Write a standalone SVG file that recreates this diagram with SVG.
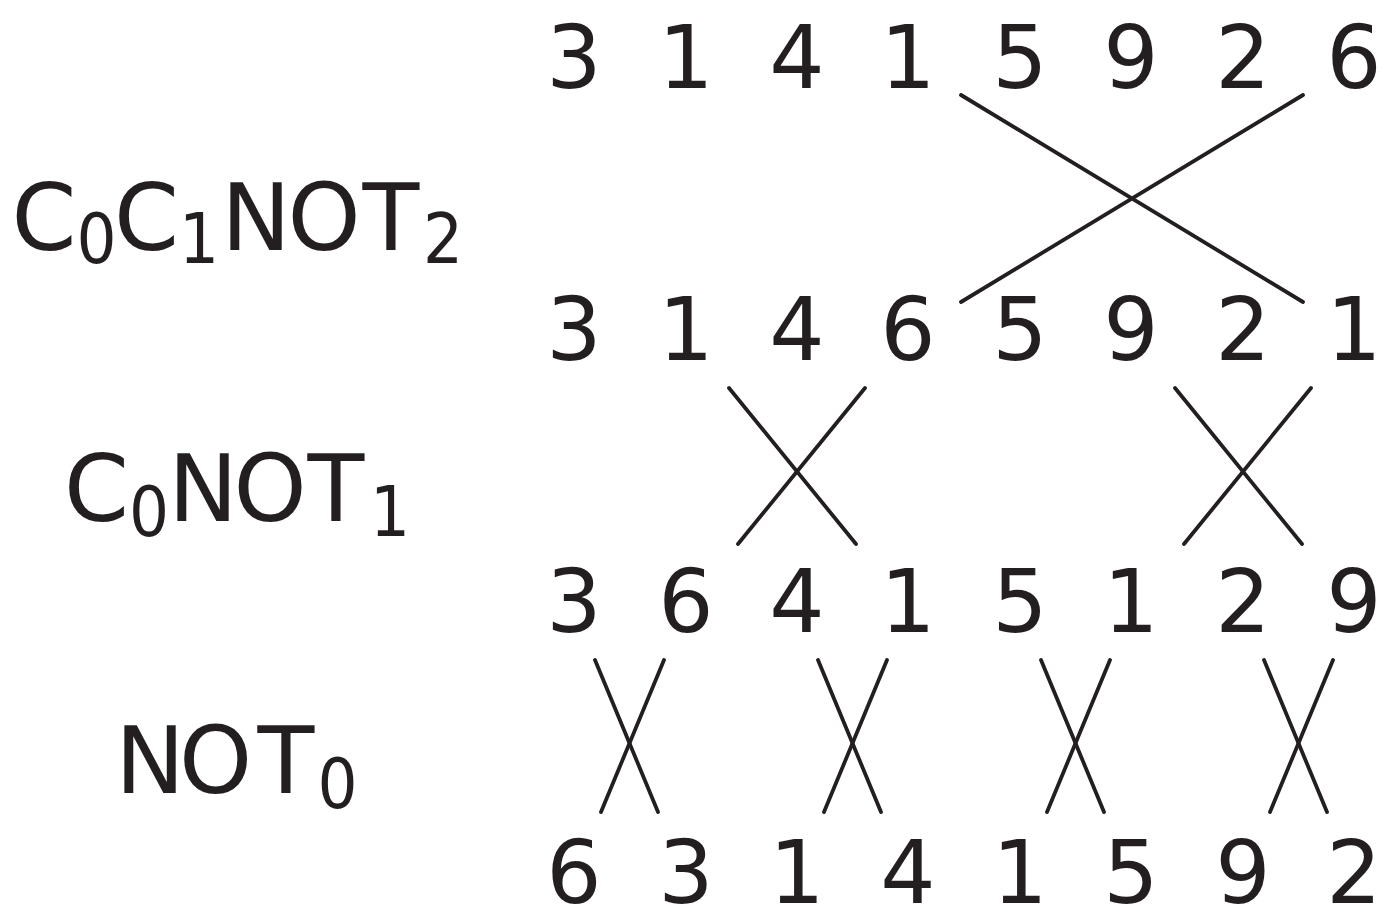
<svg xmlns="http://www.w3.org/2000/svg" width="1391" height="922" viewBox="0 0 1391 922">
<style>
.d{font-family:"DejaVu Sans","Liberation Sans",sans-serif;font-size:87px;fill:#231f20;text-anchor:middle}
.l{font-family:"DejaVu Sans","Liberation Sans",sans-serif;font-size:93px;fill:#231f20;text-anchor:middle}
.s{font-family:"DejaVu Sans Condensed","DejaVu Sans","Liberation Sans",sans-serif;font-size:70px}
line{stroke:#231f20;stroke-width:3.8;stroke-linecap:round}
</style>
<rect width="1391" height="922" fill="#fff"/>
<g id="labels">
<text id="lab1" class="l" y="250"><tspan x="44">C</tspan><tspan class="s" x="96.5" y="263">0</tspan><tspan x="146.5" y="250">C</tspan><tspan class="s" x="199" y="263">1</tspan><tspan x="256" y="250">N</tspan><tspan x="324" y="250">O</tspan><tspan x="391" y="250">T</tspan><tspan class="s" x="443" y="263">2</tspan></text>
<text id="lab2" class="l" y="521"><tspan x="96.5">C</tspan><tspan class="s" x="149" y="536">0</tspan><tspan x="203" y="521">N</tspan><tspan x="270" y="521">O</tspan><tspan x="336" y="521">T</tspan><tspan class="s" x="390" y="536">1</tspan></text>
<text id="lab3" class="l" y="793"><tspan x="150">N</tspan><tspan x="215.5">O</tspan><tspan x="286">T</tspan><tspan class="s" x="337.5" y="808">0</tspan></text>
</g>
<g id="row1" class="d">
<text x="574" y="88">3</text><text x="686" y="88">1</text><text x="797" y="88">4</text><text x="908" y="88">1</text><text x="1020" y="88">5</text><text x="1131" y="88">9</text><text x="1243" y="88">2</text><text x="1354" y="88">6</text>
</g>
<g id="row2" class="d">
<text x="574" y="360">3</text><text x="686" y="360">1</text><text x="797" y="360">4</text><text x="908" y="360">6</text><text x="1020" y="360">5</text><text x="1131" y="360">9</text><text x="1243" y="360">2</text><text x="1354" y="360">1</text>
</g>
<g id="row3" class="d">
<text x="574" y="632">3</text><text x="686" y="632">6</text><text x="797" y="632">4</text><text x="908" y="632">1</text><text x="1020" y="632">5</text><text x="1131" y="632">1</text><text x="1243" y="632">2</text><text x="1354" y="632">9</text>
</g>
<g id="row4" class="d">
<text x="574" y="903">6</text><text x="686" y="903">3</text><text x="797" y="903">1</text><text x="908" y="903">4</text><text x="1020" y="903">1</text><text x="1131" y="903">5</text><text x="1243" y="903">9</text><text x="1354" y="903">2</text>
</g>
<g id="connectors">
<line x1="961" y1="95" x2="1303" y2="302"/>
<line x1="1303" y1="95" x2="961" y2="302"/>
<line x1="729" y1="388" x2="856" y2="544"/>
<line x1="865" y1="388" x2="738" y2="544"/>
<line x1="1175" y1="388" x2="1302" y2="544"/>
<line x1="1311" y1="388" x2="1184" y2="544"/>
<line x1="595" y1="660" x2="658" y2="812"/>
<line x1="664" y1="660" x2="601" y2="812"/>
<line x1="818" y1="660" x2="881" y2="812"/>
<line x1="887" y1="660" x2="824" y2="812"/>
<line x1="1041" y1="660" x2="1104" y2="812"/>
<line x1="1110" y1="660" x2="1047" y2="812"/>
<line x1="1264" y1="660" x2="1327" y2="812"/>
<line x1="1333" y1="660" x2="1270" y2="812"/>
</g>
</svg>
